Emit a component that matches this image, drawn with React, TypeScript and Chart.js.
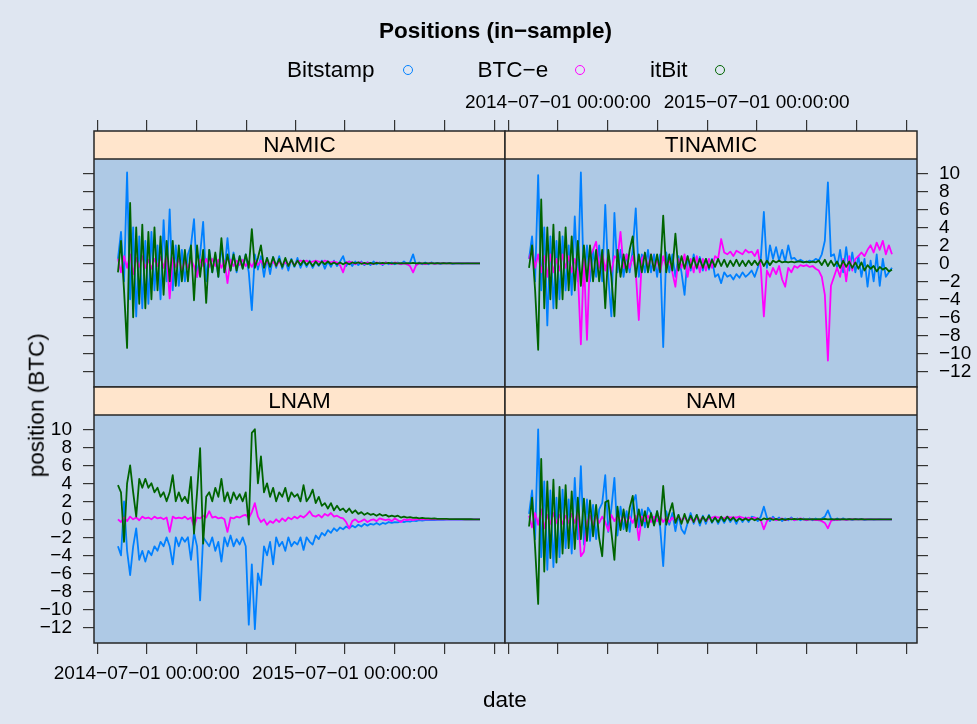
import React, { useEffect, useRef } from 'react';
import { Chart, registerables } from 'chart.js';
Chart.register(...registerables);

// ---------------- data ----------------
// sampling grid: days since 2014-04-01 (first observation ~2014-05-09, then every 5.6 days)
const START_DAY = 38;
const STEP_DAYS = 5.6;
const N_OBS = 120;
const DAYS = Array.from({ length: N_OBS }, (_, i) => START_DAY + i * STEP_DAYS);

// quarterly ticks (days since 2014-04-01) and their labels
const X_TICK_DAYS = [0, 91, 183, 275, 365, 456, 548, 640, 731];
const X_TICK_TEXT = ['', '2014\u221207\u221201 00:00:00', '', '', '', '2015\u221207\u221201 00:00:00', '', '', ''];
const Y_TICKS = [-12, -10, -8, -6, -4, -2, 0, 2, 4, 6, 8, 10];
const X_MIN = -6.1;
const X_MAX = 750.4;
const Y_MIN = -13.74;
const Y_MAX = 14.7;

const SERIES_NAMES = ['Bitstamp', 'BTC\u2212e', 'itBit'];

const NAMIC_BITSTAMP = [
  0.5, 3.5, -2.0, 10.1, -4.0, 4.0, -5.9, 3.0, -5.0, 2.5,
  -4.5, 3.5, -3.0, 2.0, -4.0, 4.8, -2.0, 6.0, -3.0, 2.0,
  -2.5, 1.5, -2.0, 1.0, 2.0, 4.9, -1.5, 1.0, 4.6, -2.0,
  1.5, -1.0, 1.0, -1.5, 2.0, -1.0, 2.8, -0.8, 1.2, -1.0,
  0.8, -0.5, 1.0, -1.0, -5.2, 1.0, -0.7, 0.8, -1.5, 0.6,
  -1.2, 0.7, -0.5, 0.8, -0.6, 0.4, -0.8, 0.5, -0.4, 0.6,
  -0.5, 0.3, -0.4, 0.3, -0.5, 0.2, -0.3, 0.3, -0.6, 0.2,
  -0.4, 0.3, -0.3, 0.2, 0.8, -0.3, 0.2, -0.3, 0.2, -0.2,
  0.2, -0.2, 0.1, -0.2, 0.2, -0.1, 0.1, -0.2, 0.1, -0.1,
  0.1, -0.1, 0.1, -0.1, 0.2, -0.1, 0.1, 1.0, -0.2, 0.1,
  -0.1, 0.1, -0.1, 0.1, -0.05, 0.05, -0.05, 0.05, 0.0, 0.05,
  -0.05, 0.0, 0.02, -0.02, 0.0, 0.02, 0.0, 0.0, 0.0, 0.0,
];
const NAMIC_BTCE = [
  0.5, -1.0, 0.8, -0.5, 1.0, -1.2, 0.6, -0.4, 0.8, -0.5,
  0.4, -0.6, 0.5, -0.3, 0.7, -0.5, 1.0, -3.9, 0.6, -0.4,
  0.5, -0.8, 0.3, -0.5, 0.4, -0.3, -1.5, 0.4, -0.3, 0.5,
  -0.4, 0.5, -0.3, 0.4, -0.5, 0.3, -2.2, 0.4, -0.3, 0.3,
  -0.2, 0.4, -0.3, 0.2, -0.4, 0.3, -0.2, 0.3, -0.3, 0.2,
  -0.2, 0.2, -0.3, 0.2, -0.2, 0.1, -0.2, 0.3, -0.2, 0.2,
  0.3, 0.2, 0.3, 0.1, 0.2, 0.3, 0.2, 0.1, 0.3, 0.2,
  0.1, 0.2, 0.1, -0.2, -1.0, 0.1, 0.2, 0.1, -0.1, 0.1,
  0.1, -0.1, 0.1, 0.0, -0.1, 0.1, 0.0, -0.1, 0.1, 0.0,
  -0.1, 0.1, 0.0, -0.1, 0.0, -0.1, -0.3, -1.0, -0.2, 0.0,
  0.0, -0.1, 0.0, 0.05, -0.05, 0.0, 0.0, 0.02, 0.0, 0.0,
  0.0, 0.0, 0.0, 0.0, 0.0, 0.0, 0.0, 0.0, 0.0, 0.0,
];
const NAMIC_ITBIT = [
  -1.0, 2.5, -3.0, -9.4, 6.7, -6.0, 4.0, -4.5, 4.3, -5.0,
  3.5, -4.0, 4.0, -3.0, 3.0, -3.5, 2.5, -2.0, 2.5, -2.5,
  2.0, -2.0, 1.5, -2.0, 2.0, -4.1, 2.0, -1.5, 1.5, -4.4,
  1.5, -1.0, 1.2, -1.5, 2.8, -1.0, 1.0, -0.8, 1.0, -0.8,
  0.8, -0.6, 1.0, -0.5, 3.8, -0.5, 0.6, 2.0, -0.5, 0.6,
  -0.4, 0.7, -0.3, 0.5, -0.4, 0.6, -0.3, 0.4, -0.3, 0.3,
  -0.2, 0.3, -0.2, 0.2, -0.3, 0.2, -0.2, 0.2, -0.1, 0.2,
  -0.1, 0.1, -0.1, 0.1, -0.1, 0.1, -0.1, 0.1, 0.0, 0.1,
  -0.05, 0.05, -0.05, 0.05, -0.05, 0.05, 0.0, 0.05, 0.0, 0.05,
  0.0, 0.03, 0.0, 0.03, 0.0, 0.03, 0.0, 0.05, 0.0, 0.03,
  0.0, 0.02, 0.0, 0.02, 0.0, 0.02, 0.0, 0.01, 0.0, 0.01,
  0.0, 0.0, 0.0, 0.0, 0.0, 0.0, 0.0, 0.0, 0.0, 0.0,
];

const TINAMIC_BITSTAMP = [
  0.5, 3.0, -2.0, 9.8, -3.0, 4.0, -6.9, 3.0, -5.0, 2.5,
  -4.0, 3.0, -3.0, 2.0, -3.5, 5.2, -2.0, 10.1, -2.5, 2.0,
  -2.0, 1.5, -1.5, 2.0, -2.0, 6.5, -1.5, -5.9, 5.6, -1.0,
  1.5, -1.5, 1.0, -1.0, 1.5, 6.1, -1.5, 1.0, -1.0, 1.5,
  -1.0, 1.0, -1.5, 1.0, -9.3, 1.2, -1.0, 1.0, -1.5, 0.8,
  -1.0, -3.5, 0.8, -0.8, 1.0, -0.6, 0.7, -0.8, 0.5, -0.7,
  0.5, -1.5, -1.2, -2.2, -1.0, -1.5, -1.3, -1.8, -1.2, -1.6,
  -1.0, -1.5, -1.2, -0.8, -1.5, -0.5, 0.5, 5.7, -0.5, 2.0,
  0.5, 1.8, 0.3, 1.5, 0.2, 2.0, 0.5, 0.6, 0.2, 0.4,
  0.2, 0.1, 0.3, 0.2, 0.5, 0.3, 1.0, 2.5, 9.0, 0.8,
  1.0, -0.5, 1.5, -1.0, 1.8, -0.8, 1.2, -1.0, 0.8, -1.5,
  0.5, -2.6, 0.3, -2.0, 1.0, -2.5, 0.5, -1.5, -1.0, -0.5,
];
const TINAMIC_BTCE = [
  0.5, 1.5, -0.5, 1.0, -1.0, 0.8, -1.5, 1.0, -1.0, 0.5,
  -0.8, 1.0, -0.5, 0.8, -1.0, 0.5, -1.0, -9.0, 0.5, -8.5,
  0.8, 1.5, 2.4, -0.5, 1.2, -0.8, 1.0, -1.0, 0.8, 0.5,
  3.5, -0.5, 1.0, -0.5, 0.8, -1.0, -6.3, 0.5, 1.0, -0.5,
  1.0, -0.8, 0.5, -1.0, 0.8, -0.5, 0.5, -1.0, -2.6, 0.5,
  -0.5, 1.0, -1.5, 0.5, -1.0, 0.8, -1.0, 0.5, -0.8, 0.5,
  -0.5, 0.8, 0.5, 2.7, 1.2, 1.0, 1.3, 0.8, 1.4, 1.2,
  1.0, 1.5, 1.2, 1.3, 0.8, 1.5, -0.5, -5.9, -0.8, -1.5,
  -0.5, -1.2, -0.3, -1.8, -2.6, -0.5, -1.0, -0.3, -0.5, -0.2,
  -0.3, -0.2, -0.4, -0.3, -0.6, -0.8, -1.5, -3.5, -10.8, -2.5,
  -1.5, -0.5, -1.5, 0.5, -2.0, 0.8, -0.8, 0.5, 0.8, 1.2,
  0.8, 1.5, 2.0, 1.2, 2.3, 1.5, 2.5, 1.0, 2.0, 1.0,
];
const TINAMIC_ITBIT = [
  -0.5, 2.0, -3.0, -9.6, 7.1, -5.0, 4.0, -4.0, 4.3, -5.0,
  3.5, -4.0, 4.0, -3.0, 3.0, -3.0, 2.5, -2.5, 2.0, -2.0,
  2.0, -2.0, 1.5, -2.0, 1.5, -5.0, 1.5, -1.5, -5.9, 1.5,
  -1.5, 1.0, -1.0, 1.5, 3.0, -1.5, 1.0, -1.0, 1.2, -1.0,
  1.0, -0.8, 1.0, -1.0, 5.3, -1.0, 1.0, -0.8, 3.3, -0.8,
  0.8, -0.6, 0.8, -0.5, 0.6, -0.5, 0.5, -0.5, 0.5, -0.5,
  0.4, -0.4, 0.5, -0.3, 0.4, -0.4, 0.3, -0.3, 0.4, -0.3,
  0.3, -0.3, 0.3, -0.2, 0.3, -0.2, 0.4, -0.3, 0.3, -0.2,
  0.3, 0.1, 0.3, 0.1, 0.2, 0.1, 0.2, 0.1, 0.2, 0.2,
  0.1, 0.2, 0.1, 0.2, 0.1, 0.3, -0.2, 0.4, -0.3, 0.3,
  -0.3, 0.2, -0.5, 0.3, -0.4, 0.2, -0.5, 0.1, -0.6, 0.1,
  -0.8, -0.2, -0.6, -0.3, -0.9, -0.4, -0.7, -0.5, -0.9, -0.7,
];

const LNAM_BITSTAMP = [
  -3.0, -4.0, 2.0, -3.5, -6.2, -3.0, -1.0, -4.5, -3.5, -4.7,
  -3.5, -4.0, -3.0, -3.5, -2.5, -3.0, -2.0, -3.0, -5.0, -2.0,
  -3.0, -2.0, -2.5, -2.0, -4.5, -1.5, -3.0, -9.0, -2.0, -2.5,
  -3.0, -2.0, -3.5, -2.5, -4.7, -2.0, -3.0, -1.8, -3.0, -2.2,
  -2.8, -2.0, -3.0, -11.7, -5.0, -12.2, -6.0, -7.3, -3.0, -4.0,
  -2.5, -5.0, -2.0, -3.0, -2.5, -3.5, -2.0, -3.0, -2.5, -2.8,
  -2.0, -3.4, -2.0, -2.5, -2.8, -1.8, -2.2, -1.5, -1.8, -1.2,
  -1.5, -1.0, -1.3, -0.9, -1.1, -0.8, -1.0, -0.7, -0.9, -0.6,
  -0.8, -0.5, -0.7, -0.5, -0.6, -0.4, -0.6, -0.4, -0.5, -0.3,
  -0.4, -0.3, -0.35, -0.2, -0.3, -0.2, -0.25, -0.15, -0.2, -0.1,
  -0.15, -0.1, -0.1, -0.08, -0.1, -0.05, -0.06, -0.05, -0.04, -0.03,
  -0.03, -0.02, -0.02, -0.02, -0.01, -0.01, -0.01, 0.0, 0.0, 0.0,
];
const LNAM_BTCE = [
  0.0, -0.3, 0.2, -0.2, 0.3, 0.0, 0.2, -0.1, 0.3, 0.1,
  0.2, 0.0, 0.3, 0.1, 0.2, 0.0, 0.2, -1.4, 0.3, 0.1,
  0.2, 0.1, 0.3, 0.0, 0.2, -0.8, 0.2, 0.1, 0.4, 0.2,
  0.9, 0.2, 0.3, 0.1, 0.2, 0.0, -1.4, 0.2, 0.1, 0.3,
  0.2, 0.4, 0.5, 0.1, 0.8, 1.8, 0.3, -0.3, 0.0, -0.6,
  -0.2, -0.4, 0.0, -0.3, 0.1, -0.2, 0.2, 0.0, 0.3, 0.1,
  0.4, 0.2, 0.5, 0.9, 0.4, 0.3, 0.5, 0.2, 0.6, 0.4,
  0.7, 0.3, 0.4, 0.2, 0.1, -0.3, -1.0, -0.2, 0.0, -0.3,
  -0.2, 0.0, -0.3, -0.1, 0.0, -0.2, 0.1, 0.0, -0.1, 0.0,
  -0.2, 0.1, -0.1, -0.3, 0.0, -0.1, 0.0, -0.1, 0.0, 0.0,
  0.0, 0.0, 0.0, 0.0, 0.0, 0.0, 0.0, 0.0, 0.0, 0.0,
  0.0, 0.0, 0.0, 0.0, 0.0, 0.0, 0.0, 0.0, 0.0, 0.0,
];
const LNAM_ITBIT = [
  3.8, 3.0, -2.5, 4.0, 6.0, 3.0, 0.3, 4.5, 3.5, 4.5,
  3.5, 4.0, 3.0, 3.5, 2.5, 3.0, 2.0, 3.0, 4.9, 2.0,
  3.0, 2.0, 2.5, 1.8, 4.7, -1.6, 3.0, 7.9, -2.7, 2.5,
  3.0, 2.0, 3.5, 2.5, 4.5, 2.0, 3.0, 1.8, 3.0, 2.2,
  2.8, 2.0, 3.0, -0.6, 9.6, 10.0, 4.0, 7.0, 3.0, 4.0,
  2.5, 3.5, 2.0, 3.0, 2.5, 3.5, 2.0, 3.0, 2.5, 2.8,
  2.0, 3.8, 2.0, 2.5, 3.3, 1.8, 2.5, 1.5, 1.8, 1.2,
  1.8, 1.0, 1.5, 1.0, 1.2, 0.8, 1.2, 0.7, 1.0, 0.6,
  0.8, 0.5, 0.7, 0.5, 0.6, 0.4, 0.6, 0.4, 0.5, 0.3,
  0.4, 0.3, 0.4, 0.2, 0.3, 0.2, 0.25, 0.15, 0.2, 0.1,
  0.15, 0.1, 0.1, 0.08, 0.1, 0.05, 0.06, 0.05, 0.04, 0.03,
  0.03, 0.02, 0.02, 0.02, 0.01, 0.01, 0.01, 0.0, 0.0, 0.0,
];

const NAM_BITSTAMP = [
  0.6, 3.2, -2.2, 10.0, -4.2, 4.2, -5.6, 3.2, -5.3, 2.4,
  -4.2, 3.3, -3.2, 2.2, -3.8, 4.6, -2.2, 5.9, -2.8, 2.2,
  -2.4, 1.6, -2.2, 1.1, 1.8, 4.9, -1.4, 1.2, 4.6, -1.8,
  1.4, -1.1, 0.9, -1.4, 1.8, 2.7, -0.9, 1.1, -0.9, 1.3,
  0.7, -0.6, 0.9, -0.9, -5.2, 0.9, -0.6, 0.7, -1.3, 0.5,
  -1.1, -1.6, -0.4, 0.7, -0.5, 0.5, -0.7, 0.4, -0.5, 0.5,
  -0.4, 0.3, -0.5, 0.2, -0.4, 0.3, -0.3, 0.2, -0.5, 0.3,
  -0.3, 0.2, -0.3, 0.3, 0.2, -0.2, 0.3, 1.4, 0.2, -0.2,
  0.3, -0.1, 0.2, -0.2, 0.1, -0.1, 0.2, -0.1, 0.1, -0.1,
  0.1, -0.1, 0.1, -0.1, 0.1, -0.1, 0.1, 0.3, 1.0, 0.1,
  -0.1, 0.1, -0.05, 0.1, -0.05, 0.05, -0.05, 0.05, 0.0, 0.05,
  -0.05, 0.0, 0.02, -0.02, 0.0, 0.02, 0.0, 0.0, 0.0, 0.0,
];
const NAM_BTCE = [
  0.4, -0.9, 0.7, -0.6, 1.1, -1.0, 0.5, -0.5, 0.7, -0.4,
  0.5, -0.5, 0.4, -0.4, 0.6, -0.4, 0.9, -4.1, -3.6, -0.3,
  0.4, -0.7, 0.4, -0.4, 0.3, -0.3, -1.3, 0.5, -0.2, 0.4,
  -0.3, 0.4, -0.4, 0.3, -0.4, 0.4, -2.3, 0.3, -0.2, 0.4,
  -0.3, 0.3, -0.2, 0.3, -0.3, 0.2, -0.3, 0.2, -0.2, 0.3,
  -0.1, 0.2, -0.2, 0.1, -0.3, 0.2, -0.1, 0.2, -0.2, 0.1,
  0.2, 0.3, 0.2, 0.2, 0.1, 0.3, 0.2, 0.2, 0.2, 0.3,
  0.2, 0.1, 0.2, 0.1, 0.2, 0.1, -0.1, -1.1, -0.2, 0.1,
  0.1, -0.1, 0.0, 0.1, -0.1, 0.0, 0.1, -0.1, 0.0, 0.1,
  0.0, -0.1, 0.0, 0.0, -0.1, -0.1, -0.2, -0.4, -1.0, -0.2,
  0.0, -0.1, 0.0, 0.0, -0.05, 0.0, 0.02, 0.0, 0.0, 0.0,
  0.0, 0.0, 0.0, 0.0, 0.0, 0.0, 0.0, 0.0, 0.0, 0.0,
];
const NAM_ITBIT = [
  -0.8, 2.4, -3.2, -9.4, 6.7, -5.8, 4.2, -4.3, 4.4, -4.8,
  3.6, -3.8, 3.8, -3.2, 3.1, -3.3, 2.4, -2.2, 2.3, -2.4,
  2.1, -1.9, 1.6, -2.1, -4.1, 1.9, 2.1, -1.4, -4.5, 1.4,
  -1.2, 1.1, -1.3, 1.3, 2.6, -0.9, 1.1, -0.7, 0.9, -0.9,
  0.7, -0.7, 0.9, -0.6, 3.7, -0.6, 0.7, 1.8, -0.4, 0.5,
  -0.5, 0.6, -0.4, 0.4, -0.3, 0.5, -0.4, 0.3, -0.2, 0.4,
  -0.3, 0.2, -0.3, 0.3, -0.2, 0.3, -0.1, 0.2, -0.2, 0.1,
  -0.1, 0.1, -0.1, 0.1, -0.1, 0.1, -0.1, 0.1, 0.0, 0.1,
  -0.05, 0.05, -0.05, 0.05, -0.05, 0.05, 0.0, 0.05, 0.0, 0.05,
  0.0, 0.03, 0.0, 0.03, 0.0, 0.03, 0.0, 0.05, 0.0, 0.03,
  0.0, 0.02, 0.0, 0.02, 0.0, 0.02, 0.0, 0.01, 0.0, 0.01,
  0.0, 0.0, 0.0, 0.0, 0.0, 0.0, 0.0, 0.0, 0.0, 0.0,
];

// ---------------- style ----------------
const W = 977;
const H = 724;
const FONT = '"Liberation Sans", Arial, Helvetica, sans-serif';
const FIG_BG = '#dfe6f1';
const PANEL_BG = '#aec9e5';
const STRIP_BG = '#ffe5cc';
const BORDER = '#262626';
const TICK_COL = '#333333';
const COLORS = ['#0080ff', '#ff00ff', '#006400'];
const STRIP_H = 28;

type Box = { l: number; t: number; r: number; b: number };
type PanelDef = {
  name: string;
  series: number[][];
  box: Box;
  xPos: 'top' | 'bottom';
  xLab: boolean;
  yPos: 'left' | 'right';
  yLab: boolean;
};

const PANELS: PanelDef[] = [
  { name: 'NAMIC', series: [NAMIC_BITSTAMP, NAMIC_BTCE, NAMIC_ITBIT], box: { l: 94, t: 131, r: 505, b: 387 }, xPos: 'top', xLab: false, yPos: 'left', yLab: false },
  { name: 'TINAMIC', series: [TINAMIC_BITSTAMP, TINAMIC_BTCE, TINAMIC_ITBIT], box: { l: 505, t: 131, r: 917, b: 387 }, xPos: 'top', xLab: true, yPos: 'right', yLab: true },
  { name: 'LNAM', series: [LNAM_BITSTAMP, LNAM_BTCE, LNAM_ITBIT], box: { l: 94, t: 387, r: 505, b: 643 }, xPos: 'bottom', xLab: true, yPos: 'left', yLab: true },
  { name: 'NAM', series: [NAM_BITSTAMP, NAM_BTCE, NAM_ITBIT], box: { l: 505, t: 387, r: 917, b: 643 }, xPos: 'bottom', xLab: false, yPos: 'right', yLab: false },
];

const panelDeco = {
  id: 'panelDeco',
  beforeDatasetsDraw(chart: any) {
    const { ctx, chartArea: a } = chart;
    ctx.save();
    ctx.fillStyle = PANEL_BG;
    ctx.fillRect(a.left, a.top + STRIP_H, a.right - a.left, a.bottom - a.top - STRIP_H);
    ctx.restore();
  },
  afterDatasetsDraw(chart: any, _args: any, opts: any) {
    const { ctx, chartArea: a } = chart;
    ctx.save();
    ctx.fillStyle = STRIP_BG;
    ctx.fillRect(a.left, a.top, a.right - a.left, STRIP_H);
    ctx.strokeStyle = BORDER;
    ctx.lineWidth = 1.5;
    ctx.strokeRect(a.left, a.top, a.right - a.left, a.bottom - a.top);
    ctx.beginPath();
    ctx.moveTo(a.left, a.top + STRIP_H);
    ctx.lineTo(a.right, a.top + STRIP_H);
    ctx.stroke();
    ctx.fillStyle = '#000';
    ctx.font = `22.5px ${FONT}`;
    ctx.textAlign = 'center';
    ctx.textBaseline = 'middle';
    ctx.fillText(opts.name, (a.left + a.right) / 2, a.top + STRIP_H / 2 + 0.8);
    ctx.restore();
  },
};

function buildConfig(p: PanelDef): any {
  const xTop = p.xPos === 'top';
  const yLeft = p.yPos === 'left';
  const padding = {
    left: yLeft ? 0 : p.box.l,
    right: yLeft ? W - p.box.r : 0,
    top: xTop ? 0 : p.box.t,
    bottom: xTop ? H - p.box.b : 0,
  };
  const xAxisH = xTop ? p.box.t : H - p.box.b;
  const yAxisW = yLeft ? p.box.l : W - p.box.r;
  const tickFont = { family: FONT, size: 19, lineHeight: 1 };
  const grid = { display: true, drawOnChartArea: false, drawTicks: true, tickLength: 11, color: TICK_COL, lineWidth: 1.2 };

  return {
    type: 'line',
    data: {
      datasets: p.series.map((vals, k) => ({
        label: SERIES_NAMES[k],
        data: vals.map((v, i) => ({ x: DAYS[i], y: v })),
        borderColor: COLORS[k],
        backgroundColor: COLORS[k],
        borderWidth: 1.8,
        borderJoinStyle: 'round',
        pointRadius: 0,
        fill: false,
        tension: 0,
        order: 3 - k,
      })),
    },
    options: {
      animation: false,
      responsive: false,
      maintainAspectRatio: false,
      devicePixelRatio: 1,
      events: [],
      layout: { padding },
      plugins: {
        legend: { display: false },
        tooltip: { enabled: false },
        title: { display: false },
        panelDeco: { name: p.name },
      },
      scales: {
        x: {
          type: 'linear',
          position: p.xPos,
          min: X_MIN,
          max: X_MAX,
          afterBuildTicks: (s: any) => {
            s.ticks = X_TICK_DAYS.map((v) => ({ value: v }));
          },
          afterFit: (s: any) => {
            s.height = xAxisH;
          },
          grid,
          border: { display: false },
          ticks: {
            autoSkip: false,
            maxRotation: 0,
            minRotation: 0,
            color: '#000',
            font: tickFont,
            padding: xTop ? 8.0 : 10.0,
            callback: (_v: any, i: number) => (p.xLab ? X_TICK_TEXT[i] : ''),
          },
        },
        y: {
          type: 'linear',
          position: p.yPos,
          min: Y_MIN,
          max: Y_MAX,
          afterBuildTicks: (s: any) => {
            s.ticks = Y_TICKS.map((v) => ({ value: v }));
          },
          afterFit: (s: any) => {
            s.width = yAxisW;
          },
          grid,
          border: { display: false },
          ticks: {
            autoSkip: false,
            color: '#000',
            font: tickFont,
            padding: 11,
            callback: (v: any) => (p.yLab ? String(v).replace('-', '\u2212') : ''),
          },
        },
      },
    },
    plugins: [panelDeco],
  };
}

function Panel({ def }: { def: PanelDef }) {
  const ref = useRef<HTMLCanvasElement>(null);
  useEffect(() => {
    const chart = new Chart(ref.current as HTMLCanvasElement, buildConfig(def));
    return () => chart.destroy();
  }, [def]);
  return (
    <canvas
      ref={ref}
      width={W}
      height={H}
      style={{ position: 'absolute', left: 0, top: 0, width: W, height: H }}
    />
  );
}

const textBase: React.CSSProperties = {
  position: 'absolute',
  fontFamily: FONT,
  fontSize: 22.5,
  lineHeight: '22.5px',
  color: '#000',
  whiteSpace: 'nowrap',
};

function LegendItem({ label, textLeft, dotX, color }: { label: string; textLeft: number; dotX: number; color: string }) {
  return (
    <>
      <div style={{ ...textBase, left: textLeft, top: 58.6 }}>{label}</div>
      <div
        style={{
          position: 'absolute',
          left: dotX - 5,
          top: 69.5 - 5,
          width: 10,
          height: 10,
          boxSizing: 'border-box',
          border: `1.6px solid ${color}`,
          borderRadius: '50%',
        }}
      />
    </>
  );
}

export default function App() {
  return (
    <div style={{ position: 'fixed', left: 0, top: 0, width: W, height: H, background: FIG_BG, overflow: 'hidden' }}>
      {PANELS.map((p) => (
        <Panel key={p.name} def={p} />
      ))}
      <div style={{ ...textBase, fontWeight: 'bold', left: 295.5, width: 400, top: 20.3, textAlign: 'center' }}>
        Positions (in{'\u2212'}sample)
      </div>
      <LegendItem label={SERIES_NAMES[0]} textLeft={287} dotX={407.5} color={COLORS[0]} />
      <LegendItem label={SERIES_NAMES[1]} textLeft={477.5} dotX={580} color={COLORS[1]} />
      <LegendItem label={SERIES_NAMES[2]} textLeft={650} dotX={719.5} color={COLORS[2]} />
      <div style={{ ...textBase, left: 405, width: 200, top: 689.3, textAlign: 'center' }}>date</div>
      <div
        style={{
          ...textBase,
          left: 37 - 100,
          top: 405 - 11.25,
          width: 200,
          height: 22.5,
          textAlign: 'center',
          transform: 'rotate(-90deg)',
        }}
      >
        position (BTC)
      </div>
    </div>
  );
}
